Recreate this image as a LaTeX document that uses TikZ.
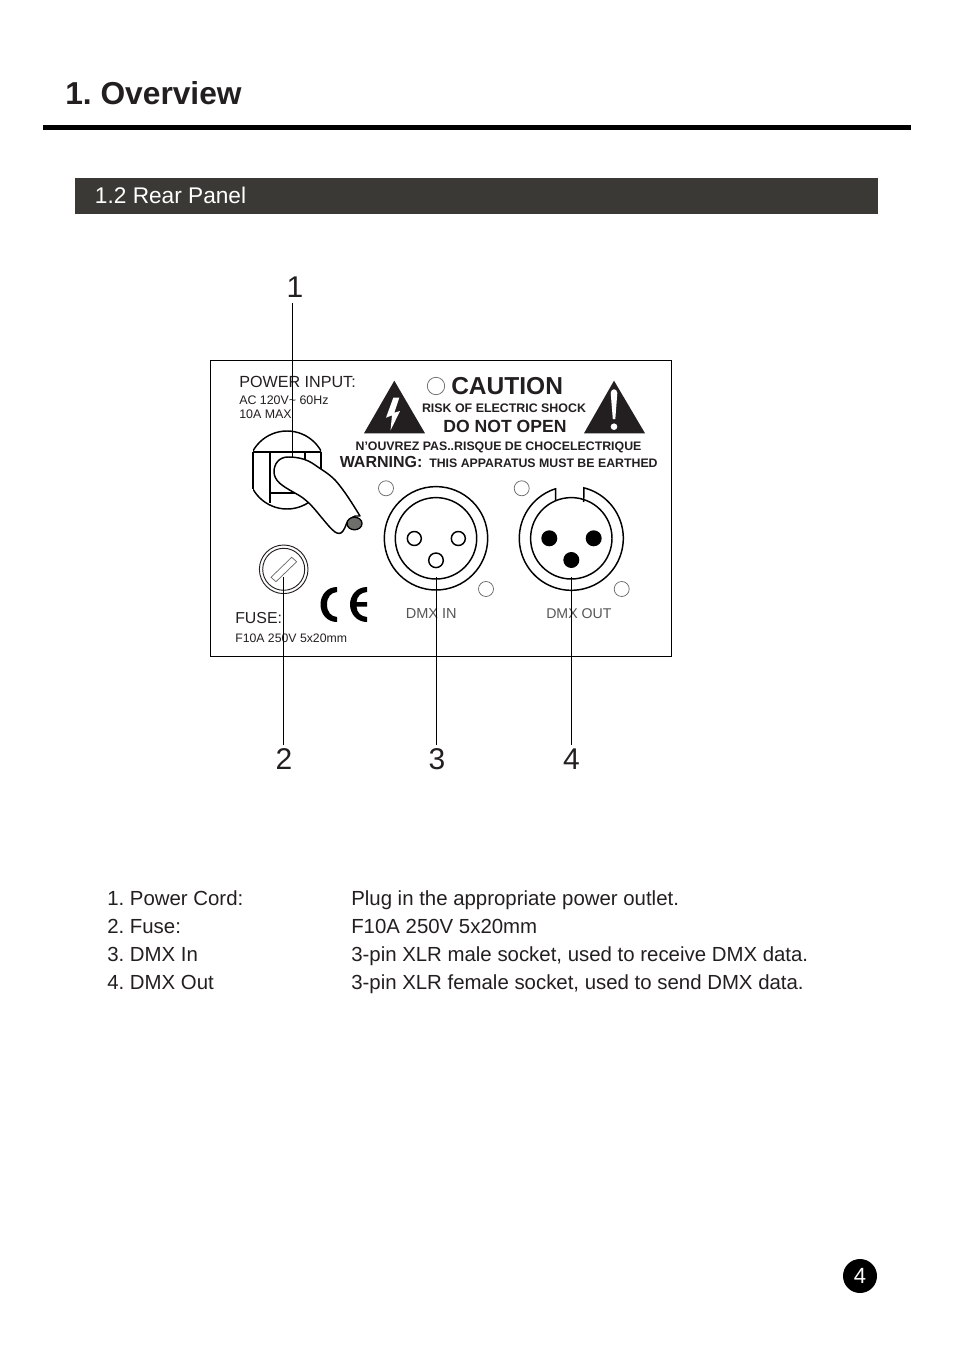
\documentclass[tikz,border=0pt]{standalone}
\usepackage{fontspec}
\setmainfont{Liberation Sans}
\frenchspacing
\definecolor{ink}{HTML}{231F20}
\definecolor{band}{HTML}{3A3935}
\definecolor{ringgrey}{HTML}{6A6A6A}
\definecolor{capgrey}{HTML}{6E6E6A}
\tikzset{
  txt/.style={anchor=base west,inner sep=0pt,text=ink},
  ctr/.style={anchor=base,inner sep=0pt,text=ink},
  num/.style={inner sep=0pt,text=ink,font=\fontsize{22.5}{22.5}\selectfont},
  leader/.style={draw=black,line width=0.75pt},
  ln/.style={draw=black,line width=1.1pt},
  thin ring/.style={draw=ringgrey,line width=0.55pt},
  listt/.style={txt,font=\fontsize{15.3}{15.3}\selectfont},
}
\begin{document}
\begin{tikzpicture}[x=0.75pt,y=-0.75pt]
\useasboundingbox (0,0) rectangle (954,1351);
\node[txt,font=\fontsize{23.8}{23.8}\selectfont\bfseries] (title) at (65,105) {1. Overview};
\fill[black] (43,125) rectangle (911,130);
\fill[band] (75,178) rectangle (878,214);
\node[txt,text=white,font=\fontsize{17}{17}\selectfont] (sect) at (94.7,204) {1.2 Rear Panel};
% panel
\draw[draw=black,line width=0.7pt] (210.5,360.5) rectangle (671.5,656.5);
\node[txt,font=\fontsize{12.1}{12.1}\selectfont] (pi) at (239,387.5) {POWER INPUT:};
\node[txt,font=\fontsize{9.3}{9.3}\selectfont] (ac) at (239,404) {AC 120V\textasciitilde{} 60Hz};
\node[txt,font=\fontsize{9.3}{9.3}\selectfont] (amax) at (239,418) {10A MAX};
% socket
\begin{scope}
\clip (253,425) rectangle (321,515);
\draw[ln] (287,470) circle[radius=39];
\end{scope}
\draw[ln] (253,451.5) -- (253,488.5) (321,451.5) -- (321,480);
\draw[ln] (253,452) -- (321,452);
\draw[ln] (270,452) -- (270,503);
\draw[ln] (305,452) -- (305,480);
\draw[ln] (270,493) -- (300,493);
% cord
\draw[ln,fill=white,line join=round] (288,457) .. controls (279,457) and (274,464) .. (274,471.7)
  .. controls (274,476) and (276,480) .. (280,483.5)
  .. controls (288,490) and (296,493) .. (303,498)
  .. controls (312,505) and (316,511) .. (322,518)
  .. controls (327,524) and (331,529) .. (335,532)
  .. controls (338,534) and (341,534) .. (343,531)
  .. controls (346,527) and (346,522) .. (350,519)
  .. controls (354,516) and (357,515) .. (360,516)
  .. controls (352,503) and (344,490) .. (335,480)
  .. controls (328,473) and (322,470) .. (315,465)
  .. controls (308,460) and (300,457) .. (288,457) -- cycle;
\draw[draw=black,fill=capgrey,line width=1pt] (354.5,523.5) ellipse[x radius=7.5,y radius=6.3];
% fuse
\draw[draw=ink,line width=0.7pt] (283.7,569.3) circle[radius=24.3];
\draw[draw=ink,line width=0.7pt] (283.7,569.3) circle[radius=21];
\draw[thin ring] (271,577.3) -- (291.7,557.3) -- (296.7,561.7) -- (276,581.7) -- cycle;
% CE
\fill[black] (337,587) .. controls (327,587) and (320.5,595) .. (320.5,604.5) .. controls (320.5,614) and (327,622) .. (337,622) -- (337,617) .. controls (331,616.5) and (327,612) .. (327,604.5) .. controls (327,597) and (331,592.5) .. (337,592) -- cycle;
\fill[black] (367,587) .. controls (357,587) and (350,595) .. (350,604.5) .. controls (350,614) and (357,622) .. (367,622) -- (367,617) .. controls (361,616.5) and (357,613) .. (356.5,606.5) -- (367,606.5) -- (367,602) -- (356.5,602) .. controls (357,596) and (361,592.5) .. (367,592) -- cycle;
\node[txt,font=\fontsize{11.9}{11.9}\selectfont] (fuse) at (235,623.8) {FUSE:};
\node[txt,font=\fontsize{9.2}{9.2}\selectfont] (fspec) at (235,642) {F10A 250V 5x20mm};
% caution block
\fill[ink] (394.3,380.7) -- (425,433.3) -- (364,433.3) -- cycle;
\fill[white] (399.3,397.7) -- (393.3,397.7) -- (386,417.7) -- (392,415.3) -- (390.5,430.5) -- (400,411) -- (394.3,412.7) -- cycle;
\fill[ink] (614,380.7) -- (645,433.3) -- (584,433.3) -- cycle;
\fill[white] (610.7,393) .. controls (611,388) and (617,388) .. (617.3,393) -- (615.3,419) -- (612.8,419) -- cycle;
\fill[white] (614,426.7) circle[radius=3.3];
\draw[thin ring] (436,386) circle[radius=8.7];
\node[txt,font=\fontsize{18.4}{18.4}\selectfont\bfseries] (caution) at (451,394) {CAUTION};
\node[ctr,font=\fontsize{9.3}{9.3}\selectfont\bfseries] (risk) at (504,412) {RISK OF ELECTRIC SHOCK};
\node[ctr,font=\fontsize{13.2}{13.2}\selectfont\bfseries] (dno) at (505,432.7) {DO NOT OPEN};
\node[ctr,font=\fontsize{9.26}{9.26}\selectfont\bfseries] (nou) at (498.5,450) {N'OUVREZ PAS..RISQUE DE CHOCELECTRIQUE};
\node[txt,font=\fontsize{12}{12}\selectfont\bfseries] (warn) at (339.5,467) {WARNING:};
\node[txt,font=\fontsize{9.25}{9.25}\selectfont\bfseries] (earth) at (429,467) {THIS APPARATUS MUST BE EARTHED};
% DMX in
\draw[ln] (436,538.3) circle[radius=51.7];
\draw[ln] (436,538.3) circle[radius=40.7];
\draw[ln] (414.3,538.5) circle[radius=7];
\draw[ln] (458.3,538.5) circle[radius=7];
\draw[ln] (436,560.3) circle[radius=7.3];
\draw[thin ring] (386,488.3) circle[radius=7.5];
\draw[thin ring] (486,589) circle[radius=7.5];
\node[txt,text=ringgrey!80!black,font=\fontsize{10.9}{10.9}\selectfont] (dmxin) at (405.5,618) {DMX IN};
% DMX out
\draw[ln] (555.7,500.5) -- (555.7,488.2) plot[domain=107:436,samples=120] ({571.3+52*cos(\x)},{538.3-52*sin(\x)}) -- (583.7,502);
\draw[ln] (571.3,538.3) circle[radius=40.7];
\fill[black] (549.3,538.3) circle[radius=8];
\fill[black] (593.7,538.3) circle[radius=8];
\fill[black] (571.3,560) circle[radius=8];
\draw[thin ring] (521.7,488.3) circle[radius=7.5];
\draw[thin ring] (621.7,589) circle[radius=7.5];
\node[txt,text=ringgrey!80!black,font=\fontsize{10.6}{10.6}\selectfont] (dmxout) at (546,618) {DMX OUT};
% callouts
\node[num,minimum height=32*0.75pt] (n1) at (295,287) {1};
\node[num,minimum height=28*0.75pt] (n2) at (284,759) {2};
\node[num,minimum height=28*0.75pt] (n3) at (437,759) {3};
\node[num,minimum height=28*0.75pt] (n4) at (571.5,759) {4};
\coordinate (e1) at (292.5,458);
\coordinate (e2) at (283.5,577);
\coordinate (e3) at (436.5,577);
\coordinate (e4) at (571.5,577);
\draw[leader] (n1.south -| e1) -- (e1);
\draw[leader] (n2.north -| e2) -- (e2);
\draw[leader] (n3.north -| e3) -- (e3);
\draw[leader] (n4.north -| e4) -- (e4);
% list
\node[listt] (a1) at (107,905) {1. Power Cord:};
\node[listt] (a2) at (107,933) {2. Fuse:};
\node[listt] (a3) at (107,961.3) {3. DMX In};
\node[listt] (a4) at (107,989.7) {4. DMX Out};
\node[listt] (b1) at (351,905) {Plug in the appropriate power outlet.};
\node[listt] (b2) at (351,933) {F10A 250V 5x20mm};
\node[listt] (b3) at (351,961.3) {3-pin XLR male socket, used to receive DMX data.};
\node[listt] (b4) at (351,989.7) {3-pin XLR female socket, used to send DMX data.};
% page number
\node[circle,fill=black,minimum size=34*0.75pt,inner sep=0pt,text=white,font=\fontsize{16.5}{16.5}\selectfont] (page) at (860,1276) {4};
\end{tikzpicture}
\end{document}
